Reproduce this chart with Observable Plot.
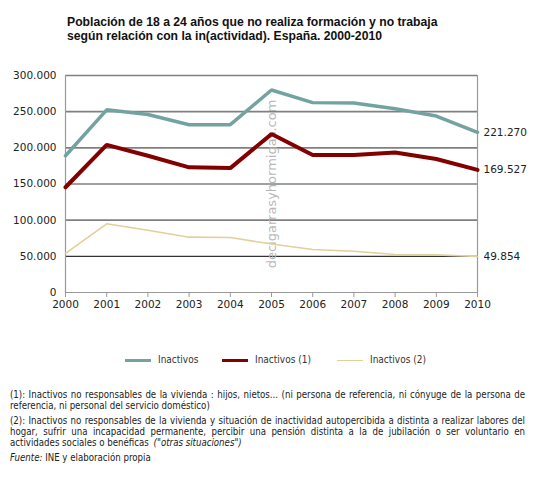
<!DOCTYPE html>
<html>
<head>
<meta charset="utf-8">
<script src="https://cdn.jsdelivr.net/npm/d3@7"></script>
<script src="https://cdn.jsdelivr.net/npm/@observablehq/plot@0.6"></script>
<style>
  body { margin: 0; background: #fff; width: 536px; height: 480px; position: relative; overflow: hidden; }
  #title { position: absolute; left: 67px; top: 15px; font: bold 12.2px "Liberation Sans", Arial, sans-serif; line-height: 14px; color: #111; }
  #chart { position: absolute; left: 0; top: 60px; }
  #legend { position: absolute; left: 0; top: 354px; width: 536px; font: 10px "DejaVu Sans Condensed", "DejaVu Sans", sans-serif; color: #333; }
  .item { position: absolute; top: 0; white-space: nowrap; }
  .sw { display: inline-block; width: 26px; vertical-align: middle; margin-right: 7px; }
  #notes { position: absolute; left: 10px; top: 389px; width: 515px; font: 9.6px "DejaVu Sans Condensed", "DejaVu Sans", sans-serif; color: #222; text-align: justify; line-height: 11px; }
  #notes p { margin: 0 0 4px 0; }
  #notes i.q { margin-left: 2px; }
</style>
</head>
<body>
<div id="title">Población de 18 a 24 años que no realiza formación y no trabaja<br>según relación con la in(actividad). España. 2000-2010</div>
<div id="chart"></div>
<div id="legend"></div>
<div id="notes">
  <p>(1): Inactivos no responsables de la vivienda : hijos, nietos... (ni persona de referencia, ni cónyuge de la persona de referencia, ni personal del servicio doméstico)</p>
  <p>(2): Inactivos no responsables de la vivienda y situación de inactividad autopercibida a distinta a realizar labores del hogar, sufrir una incapacidad permanente, percibir una pensión distinta a la de jubilación o ser voluntario en <span>actividades sociales o benéficas</span> <i class="q">("otras situaciones")</i></p>
  <p><i>Fuente:</i> INE y elaboración propia</p>
</div>
<script>
const years = [2000, 2001, 2002, 2003, 2004, 2005, 2006, 2007, 2008, 2009, 2010];
const inactivos  = [189000, 252500, 246000, 232000, 232000, 280000, 262500, 262000, 254000, 244000, 221270];
const inactivos1 = [145500, 204000, 189000, 173000, 172000, 219000, 190000, 190000, 193500, 184500, 169527];
const inactivos2 = [54000, 95000, 86000, 76500, 76000, 67000, 59500, 57000, 52500, 52000, 49854];
const seriesNames = ["Inactivos", "Inactivos (1)", "Inactivos (2)"];
const seriesColors = ["#72a3a0", "#820000", "#e3cf9a"];
const seriesWidths = [3.5, 4, 1.6];
const yTicks = [0, 50000, 100000, 150000, 200000, 250000, 300000];
const watermark = "decigarrasyhormigas.com";

const es = d3.formatLocale({decimal: ",", thousands: ".", grouping: [3], currency: ["", " €"]});
const fmt = es.format(",d");

const allSeries = [inactivos, inactivos1, inactivos2];
const rows = [];
allSeries.forEach((vals, i) => vals.forEach((v, j) => rows.push({year: years[j], value: v, serie: seriesNames[i]})));
const lastRows = allSeries.map((vals, i) => ({year: years[years.length - 1], value: vals[vals.length - 1], serie: seriesNames[i]}));

const lineMarks = seriesNames.map((name, i) =>
  Plot.line(rows.filter(d => d.serie === name), {x: "year", y: "value", stroke: seriesColors[i], strokeWidth: seriesWidths[i], strokeLinejoin: "miter"})
);

const chart = Plot.plot({
  width: 536,
  height: 260,
  marginLeft: 65,
  marginRight: 59,
  marginTop: 15,
  marginBottom: 28,
  style: {fontFamily: "'DejaVu Sans', sans-serif", fontSize: "10.5px", color: "#222", background: "#fff"},
  x: {domain: [2000, 2010], ticks: years, tickFormat: d => String(d), label: null, tickSize: 5, tickPadding: 3},
  y: {domain: [0, 300000], ticks: yTicks, tickFormat: fmt, label: null, tickSize: 0, tickPadding: 9},
  marks: [
    Plot.ruleY(yTicks.filter(t => t > 0 && t !== 50000), {stroke: "#808080", strokeWidth: 1.6}),
    Plot.ruleY([50000], {stroke: "#333", strokeWidth: 1.4}),
    Plot.ruleX([2000, 2010], {stroke: "#999", strokeWidth: 1.2}),
    Plot.ruleY([0], {stroke: "#999", strokeWidth: 1.2}),
    Plot.text([watermark], {frameAnchor: "middle", text: d => d, rotate: -90, fill: "#b8b8b8", fontSize: 13, fontFamily: "'DejaVu Sans', sans-serif"}),
    ...lineMarks,
    Plot.text(lastRows, {x: "year", y: "value", text: d => fmt(d.value), textAnchor: "start", dx: 6, fill: "#222", fontSize: 10.5}),
    Plot.axisX({ticks: years, tickFormat: d => String(d), tickSize: 5, tickPadding: 3, stroke: "#999"}),
    Plot.axisY({ticks: yTicks, tickFormat: fmt, tickSize: 0, tickPadding: 9})
  ]
});
document.getElementById("chart").appendChild(chart);

const legend = document.getElementById("legend");
const positions = [125, 222, 337];
seriesNames.forEach((name, i) => {
  const it = document.createElement("div");
  it.className = "item";
  it.style.left = positions[i] + "px";
  const sw = document.createElement("span");
  sw.className = "sw";
  sw.style.borderTop = (i === 2 ? 1.5 : 3) + "px solid " + seriesColors[i];
  it.appendChild(sw);
  it.appendChild(document.createTextNode(name));
  legend.appendChild(it);
});
</script>
</body>
</html>
